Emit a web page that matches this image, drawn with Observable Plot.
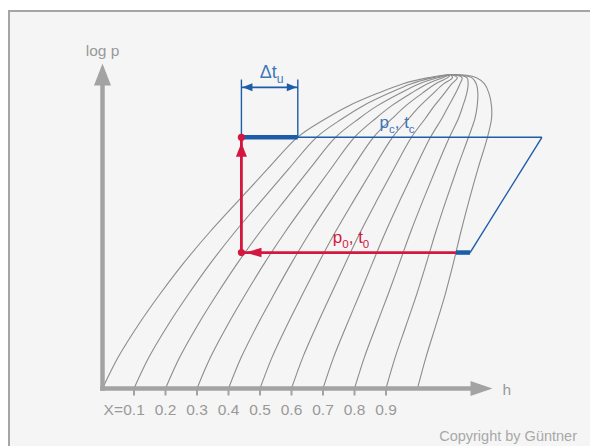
<!DOCTYPE html>
<html><head><meta charset="utf-8">
<script src="https://cdn.jsdelivr.net/npm/d3@7"></script>
<script src="https://cdn.jsdelivr.net/npm/@observablehq/plot@0.6"></script>
<style>
html,body{margin:0;padding:0;background:#fff;}
#wrap{position:relative;width:590px;height:446px;overflow:hidden;background:#fff;font-family:"Liberation Sans",Arial,sans-serif;}
#frame{position:absolute;left:8px;top:10px;width:600px;height:460px;border:2px solid #a5a5a5;background:#f5f5f5;box-sizing:border-box;}
#chart{position:absolute;left:0;top:0;}
#copy{position:absolute;right:13px;top:428px;font-size:14.5px;color:#a8a8a8;white-space:nowrap;}
</style></head><body>
<div id="wrap"><div id="frame"></div><div id="chart"></div><div id="copy">Copyright by Güntner</div></div>
<script>
// ---- data (h in units of quality-tick spacing, log p in % of critical point) ----
const pLevels = [0, 10, 20, 30, 40, 50, 60, 70, 80, 86, 90, 94, 97, 99, 100];
// saturated liquid line (X = 0) and saturated vapour line (X = 1)
const hLiquid = [0, 0.5, 1.12, 1.82, 2.58, 3.42, 4.33, 5.25, 6.19, 7.095, 7.81, 8.73, 9.524, 10.349, 11.048];
const hVapor  = [10, 10.27, 10.58, 10.88, 11.14, 11.38, 11.64, 11.92, 12.22, 12.35, 12.349, 12.27, 12.127, 11.873, 11.048];
// vapour qualities of the iso-quality lines and their tick labels
const qualities = [0.1, 0.2, 0.3, 0.4, 0.5, 0.6, 0.7, 0.8, 0.9];
const tickPos = [1, 2, 3, 4, 5, 6, 7, 8, 9];
const tickLabels = ["0.1", "0.2", "0.3", "0.4", "0.5", "0.6", "0.7", "0.8", "0.9"];
// cycle
const pressures = [43.3, 80];          // p0 (evaporation), pc (condensation)
const hCycle = [4.41, 6.2, 11.22, 11.67, 13.95]; // expansion, end subcooling, end evaporation, suction, discharge
// axes extents
const hAxis = [11.68, 12.38];          // arrow base, arrow tip
const pAxis = [95.9, 103.5];
const bracket = [98.4, 95.9];          // Δt_u bracket top, arrow level
const arrowTips = {up: 78.3, left: 4.54};

// ---- derived series ----
// lines of constant quality X: h = h' + X (h'' - h') at each pressure (definition of X)
const qualityPts = qualities.flatMap(q => pLevels.map((p, i) => ({q, p, h: hLiquid[i] + q * (hVapor[i] - hLiquid[i])})));
const domePts = [
  ...pLevels.map((p, i) => ({p, h: hLiquid[i]})),
  ...pLevels.map((p, i) => ({p, h: hVapor[i]})).reverse().slice(1)
];

// ---- symbols ----
function tri(dx, dy, len, half) {
  return {draw(ctx) {
    ctx.moveTo(0, 0);
    ctx.lineTo(-dx * len - dy * half, -dy * len + dx * half);
    ctx.lineTo(-dx * len + dy * half, -dy * len - dx * half);
    ctx.closePath();
  }};
}
const tickSym = {draw(ctx) { ctx.rect(-1, 0, 2, 7); }};

const gray = "#a3a3a3", curveGray = "#8c8c8c", blue = "#1d5ca9", blueText = "#3f76ba", red = "#d3173f";
const [p0, pc] = pressures;
const [hA, hB, hC, hD, hE] = hCycle;

const plot = Plot.plot({
  width: 590, height: 446,
  marginLeft: 102, marginRight: 173, marginTop: 74, marginBottom: 58,
  x: {domain: [0, 10], axis: null},
  y: {domain: [0, 100], axis: null},
  style: {background: "transparent", overflow: "visible", fontFamily: "'Liberation Sans', Arial, sans-serif"},
  marks: [
    // iso-quality lines and saturation dome
    Plot.line(qualityPts, {x: "h", y: "p", z: "q", curve: "catmull-rom", stroke: curveGray, strokeWidth: 1.1}),
    Plot.line(domePts, {x: "h", y: "p", curve: "catmull-rom", stroke: curveGray, strokeWidth: 1.1}),
    // axes
    Plot.link([0], {x1: () => 0, y1: () => 0, x2: () => 0, y2: () => pAxis[0], stroke: gray, strokeWidth: 4.5, strokeLinecap: "square"}),
    Plot.link([0], {x1: () => 0, y1: () => 0, x2: () => hAxis[0], y2: () => 0, stroke: gray, strokeWidth: 4.5, strokeLinecap: "square"}),
    Plot.dot([0], {x: () => 0, y: () => pAxis[1], symbol: tri(0, -1, 22, 8.5), fill: gray, stroke: "none"}),
    Plot.dot([0], {x: () => hAxis[1], y: () => 0, symbol: tri(1, 0, 22, 7.5), fill: gray, stroke: "none"}),
    Plot.dot(tickPos, {x: d => d, y: () => 0, symbol: tickSym, fill: gray, stroke: "none"}),
    Plot.text(tickPos, {x: d => d, y: () => 0, text: (d, i) => tickLabels[i], dy: 22, fontSize: 15.5, fill: "#999"}),
    Plot.text(["X="], {x: () => tickPos[0], y: () => 0, dy: 22, dx: -11, textAnchor: "end", fontSize: 15.5, fill: "#999"}),
    Plot.text(["log p"], {x: () => 0, y: () => 107.6, fontSize: 15.5, fill: "#999"}),
    Plot.text(["h"], {x: () => 12.7, y: () => -0.5, textAnchor: "start", fontSize: 15.5, fill: "#999"}),
    // Δt_u bracket
    Plot.link([hA, hB], {x1: d => d, x2: d => d, y1: () => pc, y2: () => bracket[0], stroke: blue, strokeWidth: 1.4}),
    Plot.link([0], {x1: () => hA, x2: () => hB, y1: () => bracket[1], y2: () => bracket[1], stroke: blue, strokeWidth: 1.6}),
    Plot.dot([0], {x: () => hA, y: () => bracket[1], dx: 1, symbol: tri(-1, 0, 10, 4), fill: blue, stroke: "none"}),
    Plot.dot([0], {x: () => hB, y: () => bracket[1], dx: -1, symbol: tri(1, 0, 10, 4), fill: blue, stroke: "none"}),
    // condenser / compressor lines
    Plot.link([0], {x1: () => hA, x2: () => hE, y1: () => pc, y2: () => pc, stroke: blue, strokeWidth: 1.4}),
    Plot.link([0], {x1: () => hD, x2: () => hE, y1: () => p0, y2: () => pc, stroke: blue, strokeWidth: 1.4}),
    Plot.link([0], {x1: () => hA, x2: () => hB, y1: () => pc, y2: () => pc, stroke: blue, strokeWidth: 4.5}),
    Plot.link([0], {x1: () => hC, x2: () => hD, y1: () => p0, y2: () => p0, stroke: blue, strokeWidth: 4.5}),
    // evaporation + expansion (red)
    Plot.link([0], {x1: () => hC, x2: () => hA, y1: () => p0, y2: () => p0, stroke: red, strokeWidth: 2.8}),
    Plot.link([0], {x1: () => hA, x2: () => hA, y1: () => p0, y2: () => pc, stroke: red, strokeWidth: 2.8}),
    Plot.dot([0], {x: () => hA, y: () => arrowTips.up, symbol: tri(0, -1, 14, 5.5), fill: red, stroke: "none"}),
    Plot.dot([0], {x: () => arrowTips.left, y: () => p0, symbol: tri(-1, 0, 16, 4.8), fill: red, stroke: "none"}),
    Plot.dot([p0, pc], {x: () => hA, y: d => d, r: 3.6, fill: red, stroke: "none"}),
    // labels
    Plot.text(["Δt_u"], {x: () => 5.37, y: () => 100.7, fontSize: 18, fill: blueText}),
    Plot.text(["p_c, t_c"], {x: () => 9.35, y: () => 84.7, fontSize: 17, fill: blueText}),
    Plot.text(["p_0, t_0"], {x: () => 7.89, y: () => 48.2, fontSize: 17, fill: red})
  ]
});

// subscripts
plot.querySelectorAll("text").forEach(t => {
  const s = t.textContent;
  if (!s.includes("_")) return;
  t.textContent = "";
  let shifted = false;
  s.split(/(_.)/).filter(x => x).forEach(part => {
    const ts = document.createElementNS("http://www.w3.org/2000/svg", "tspan");
    if (part[0] === "_") {
      ts.textContent = part.slice(1);
      ts.setAttribute("font-size", "68%");
      ts.setAttribute("dy", "5");
      shifted = true;
    } else {
      ts.textContent = part;
      if (shifted) { ts.setAttribute("dy", "-5"); shifted = false; }
    }
    t.appendChild(ts);
  });
});

document.getElementById("chart").appendChild(plot);
</script></body></html>
